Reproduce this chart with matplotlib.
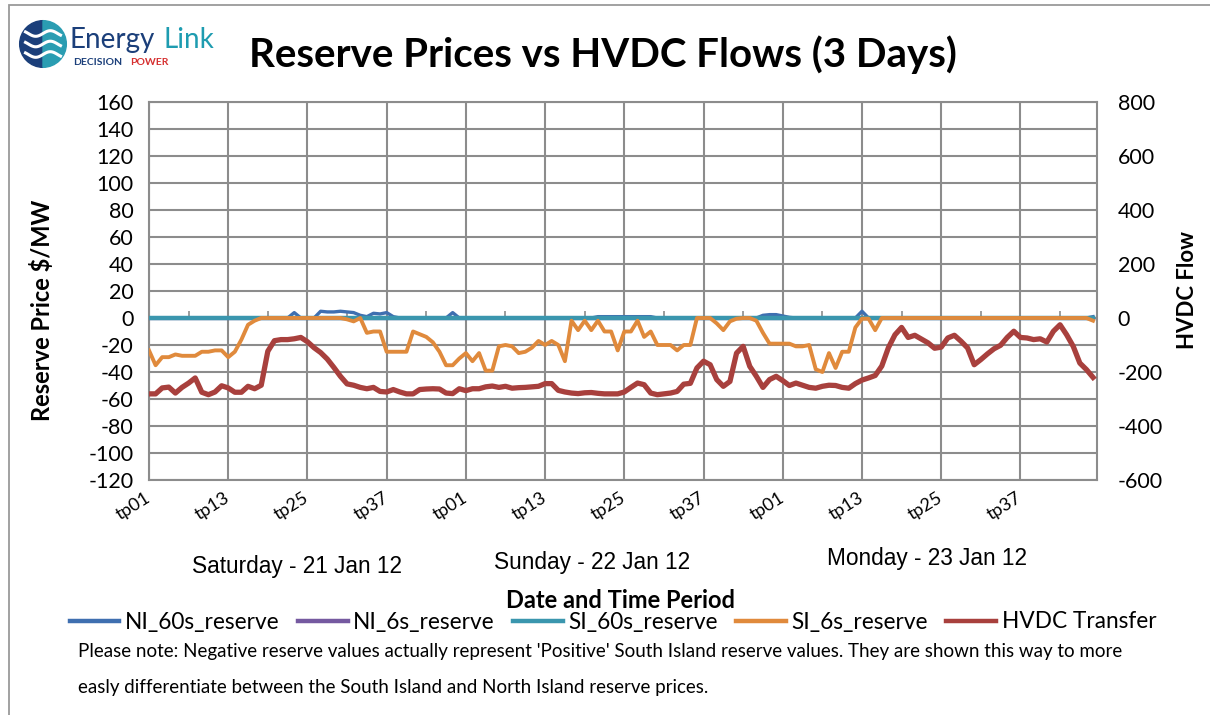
import numpy as np
import matplotlib
matplotlib.use("Agg")
from matplotlib import pyplot as plt
from matplotlib.patches import Wedge, Rectangle
from matplotlib.lines import Line2D

plt.rcParams['font.family'] = ['Lato', 'DejaVu Sans']
plt.rcParams['axes.unicode_minus'] = False

# 3 days x 48 trading periods
tick_labels = ["tp01", "tp13", "tp25", "tp37"] * 3
day_labels = ["Saturday - 21 Jan 12", "Sunday - 22 Jan 12", "Monday - 23 Jan 12"]

# reserve prices ($/MW), rows of 12 trading periods
ni_60s = [0, 0, 0, 0, 0, 0, 0, 0, 0, 0, 0, 0,
          0, 0, 0, 0, 0, 0, 0, 0, 0, 0, 4, 0,
          0, 0, 5, 4.5, 4.5, 5, 4.5, 4, 2, 1, 3.5, 3,
          4, 1, 0, 0, 0, 0, 0, 0, 0, 0, 4, 0,
          0, 0, 0, 0, 0, 0, 0, 0, 0, 0, 0, 0,
          0, 0, 0, 0, 0, 0, 0, 0, 1, 1, 1, 1,
          1, 1, 1, 1, 1, 0, 0, 0, 0, 0, 0, 0,
          0, 0, 0, 0, 0, 0, 0, 0, 0, 2, 2.5, 2.5,
          1.5, 0.5, 0, 0, 0, 0, 0, 0, 0, 0, 0, 0,
          5, 0, 0, 0, 0, 0, 0, 0, 0, 0, 0, 0,
          0, 0, 0, 0, 0, 0, 0, 0, 0, 0, 0, 0,
          0, 0, 0, 0, 0, 0, 0, 0, 0, 0, 0, 1]
ni_6s = [0] * 144
si_60s = [0] * 144
si_6s = [-24, -35, -29, -29, -27, -28, -28, -28, -25, -25, -24, -24,
         -29, -25, -16, -5, -2, 0, 0, 0, 0, 0, 0, 0,
         0, 0, 0, 0, 0, 0, -1, -2.5, 0, -11, -10, -10,
         -25, -25, -25, -25, -10, -12, -14, -18, -25, -35, -35, -30,
         -26, -32, -26, -39, -39, -21, -20, -21, -26, -25, -22, -17,
         -20, -17, -20, -32, -2, -9, -2, -9, -2, -10, -10, -24,
         -10, -10, -2, -14, -10, -20, -20, -20, -24, -20, -20, 0,
         0, 0, -4, -9, -2.5, -0.5, 0, 0, -2, -11, -19, -19,
         -19, -19, -21, -21, -20, -38, -40, -26, -37, -25, -25, -7,
         -0.5, -0.5, -9, 0, 0, 0, 0, 0, 0, 0, 0, 0,
         0, 0, 0, 0, 0, 0, 0, 0, 0, 0, 0, 0,
         0, 0, 0, 0, 0, 0, 0, 0, 0, 0, 0, -2]
# HVDC transfer (MW)
hvdc = [-281, -281, -259, -256, -278, -257, -241, -222, -275, -284, -274, -251,
        -259, -275, -275, -253, -262, -249, -123, -84, -80, -80, -77, -72,
        -88, -110, -128, -152, -183, -216, -244, -249, -257, -262, -257, -272,
        -274, -265, -274, -281, -281, -265, -263, -262, -263, -278, -280, -262,
        -269, -262, -262, -255, -252, -257, -253, -260, -258, -257, -255, -253,
        -243, -243, -268, -274, -278, -280, -277, -276, -279, -281, -281, -281,
        -274, -257, -241, -247, -278, -284, -281, -278, -272, -245, -242, -185,
        -160, -173, -228, -253, -235, -130, -105, -179, -216, -257, -228, -216,
        -232, -250, -241, -249, -257, -260, -253, -249, -250, -257, -260, -243,
        -230, -222, -213, -178, -110, -62, -35, -72, -64, -78, -92, -112,
        -108, -74, -64, -86, -111, -173, -154, -133, -114, -101, -72, -49,
        -72, -74, -80, -77, -89, -49, -25, -62, -105, -167, -191, -220]

colors = {"NI_60s_reserve": "#3F6FB0", "NI_6s_reserve": "#7559A0",
          "SI_60s_reserve": "#3A96AE", "SI_6s_reserve": "#E08A3C",
          "HVDC Transfer": "#A8403D"}
grid_c = "#8c8c8c"

W, H = 1210, 715
fig = plt.figure(figsize=(W / 100, H / 100), dpi=100)

ax = fig.add_axes([149 / W, 1 - 480 / H, (1097 - 149) / W, (480 - 102) / H])
x = np.arange(len(hvdc))

ax.plot(x, ni_60s, color=colors["NI_60s_reserve"], lw=2.4, zorder=3)
ax.plot(x, ni_6s, color=colors["NI_6s_reserve"], lw=2.4, zorder=3)
ax.plot(x, si_60s, color=colors["SI_60s_reserve"], lw=3.2, zorder=3)
ax.plot(x, si_6s, color=colors["SI_6s_reserve"], lw=2.8, zorder=4)

ax.set_xlim(0, 143.6)
ax.set_ylim(-120, 160)
ax.set_yticks(np.arange(-120, 161, 20))
ax.set_xticks(np.arange(0, 144, 12))
ax.set_xticklabels(tick_labels, rotation=32, ha='right', va='center',
                   rotation_mode='anchor', fontsize=13)
ax.tick_params(axis='x', length=0, pad=12)
ax.tick_params(axis='y', length=0, pad=11, labelsize=15.5)
ax.grid(True, color=grid_c, lw=1.5)
ax.set_axisbelow(True)
for s in ax.spines.values():
    s.set_color(grid_c)
    s.set_linewidth(1.5)

# small tick marks on the zero line
zero_ax = ax.secondary_xaxis(120 / 280)
zero_ax.set_xticks(np.arange(0, 144, 6))
zero_ax.tick_params(direction='in', length=5, width=1.2, color=grid_c,
                    labelbottom=False, labeltop=False)
zero_ax.spines['bottom'].set_visible(False)
zero_ax.spines['top'].set_visible(False)

ax2 = ax.twinx()
ax2.plot(x, hvdc, color=colors["HVDC Transfer"], lw=3.8, zorder=5)
ax2.set_ylim(-600, 800)
ax2.set_yticks(np.arange(-600, 801, 200))
ax2.tick_params(axis='y', length=0, pad=15, labelsize=15.5)
for s in ax2.spines.values():
    s.set_visible(False)

# titles and labels
fig.text(0.498, 1 - 55 / H, "Reserve Prices vs HVDC Flows (3 Days)",
         ha='center', va='center', fontsize=29, fontweight='bold')
fig.text(42 / W, 1 - 310 / H, "Reserve Price $/MW", rotation=90,
         ha='center', va='center', fontsize=17, fontweight='bold')
fig.text(1188 / W, 1 - 290 / H, "HVDC Flow", rotation=90,
         ha='center', va='center', fontsize=16, fontweight='bold')
fig.text(621 / W, 1 - 601 / H, "Date and Time Period",
         ha='center', va='center', fontsize=17, fontweight='bold')

day_pos = [(297, 566), (592, 562), (927, 559)]
for lab, (px, py) in zip(day_labels, day_pos):
    fig.text(px / W, 1 - py / H, lab, ha='center', va='center',
             fontsize=16.3, family='Liberation Sans')

handles = [Line2D([], [], color=c, lw=3.2) for c in colors.values()]
fig.legend(handles, list(colors.keys()), loc='center', ncol=5,
           bbox_to_anchor=(613 / W, 1 - 622 / H), frameon=False,
           fontsize=16.3, handlelength=2.2, handletextpad=0.25,
           columnspacing=0.8)

fig.text(78 / W, 1 - 652 / H,
         "Please note: Negative reserve values actually represent 'Positive' "
         "South Island reserve values. They are shown this way to more",
         ha='left', va='center', fontsize=13.5)
fig.text(78 / W, 1 - 688 / H,
         "easly differentiate between the South Island and North Island reserve prices.",
         ha='left', va='center', fontsize=13.5)

# logo
lax = fig.add_axes([15 / W, 1 - 72 / H, 56 / W, 56 / H])
lax.set_xlim(-1.2, 1.2)
lax.set_ylim(-1.2, 1.2)
lax.set_aspect('equal')
lax.axis('off')
lax.add_patch(Wedge((0, 0), 1, 90, 270, color="#1B3F7A"))
lax.add_patch(Wedge((0, 0), 1, -90, 90, color="#2A9DB2"))
t = np.linspace(-0.75, 0.75, 60)
for yo in [0.45, 0.0, -0.45]:
    lax.plot(t, yo + 0.12 * np.sin(t * 5.0), color='white', lw=2.2)

fig.text(70 / W, 1 - 48 / H, "Energy", color="#1B3F7A", fontsize=20,
         ha='left', va='baseline')
fig.text(163 / W, 1 - 48 / H, "Link", color="#1E9CB0", fontsize=20,
         ha='left', va='baseline')
fig.text(73 / W, 1 - 65 / H, "DECISION", color="#1B3F7A", fontsize=7.5,
         fontweight='bold', ha='left', va='baseline')
fig.text(130 / W, 1 - 65 / H, "POWER", color="#D63030", fontsize=7.5,
         fontweight='bold', ha='left', va='baseline')

# outer chart border
fig.patches.append(Rectangle((8.5 / W, -0.1), 1.2, 1 - 5.5 / H + 0.1,
                             transform=fig.transFigure, fill=False,
                             edgecolor="#9a9a9a", lw=1.3))

fig.savefig("out.png", dpi=100)
